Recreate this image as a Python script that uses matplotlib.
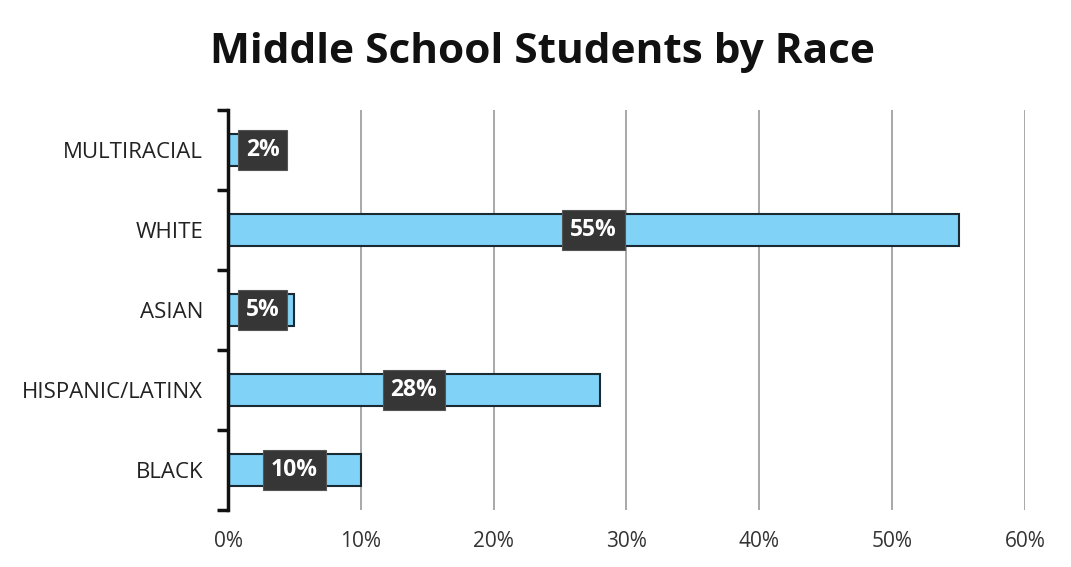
import matplotlib.pyplot as plt
import numpy as np

categories = ['BLACK', 'HISPANIC/LATINX', 'ASIAN', 'WHITE', 'MULTIRACIAL']
values = [10, 28, 5, 55, 2]
label_text = ['10%', '28%', '5%', '55%', '2%']
xticks = [0, 10, 20, 30, 40, 50, 60]

plt.rcParams['font.family'] = ['Open Sans', 'DejaVu Sans']

fig = plt.figure(figsize=(10.71, 5.67), dpi=100)
ax = fig.add_axes([0.2129, 0.1005, 0.7441, 0.7055])

y = np.arange(len(categories))
ax.barh(y, values, height=0.4, color='#80d2f6', edgecolor='#1a2a33', linewidth=1.5, zorder=3)

for yi, v, t in zip(y, values, label_text):
    xpos = max(v / 2, 2.6)
    ax.text(xpos, yi, t, ha='center', va='center', color='white', fontsize=16.5, fontweight='bold',
            zorder=5,
            bbox=dict(boxstyle='square,pad=0.35', facecolor='#363636', edgecolor='#555555', linewidth=0.8))

ax.set_xlim(0, 60)
ax.set_ylim(-0.5, len(categories) - 0.5)
ax.set_xticks(xticks)
ax.set_xticklabels([f'{t}%' for t in xticks])
ax.set_yticks(y)
ax.set_yticklabels(categories)
ax.set_yticks(np.arange(-0.5, len(categories), 1), minor=True)

ax.grid(axis='x', color='#9a9a9a', linewidth=1.2, zorder=0)
for s in ['top', 'right', 'bottom']:
    ax.spines[s].set_visible(False)
ax.spines['left'].set_linewidth(2.5)
ax.spines['left'].set_color('#111111')
ax.spines['left'].set_zorder(4)

ax.tick_params(axis='x', length=0, labelsize=15, labelcolor='#333333', pad=15)
ax.tick_params(axis='y', which='major', length=0, labelsize=16, labelcolor='#222222', pad=18)
ax.tick_params(axis='y', which='minor', length=8, width=2.5, color='#111111')

fig.text(0.507, 0.908, 'Middle School Students by Race', ha='center', va='center',
         fontsize=30.5, fontweight='bold', color='#111111')

fig.savefig('out.png', dpi=100, facecolor='white')
